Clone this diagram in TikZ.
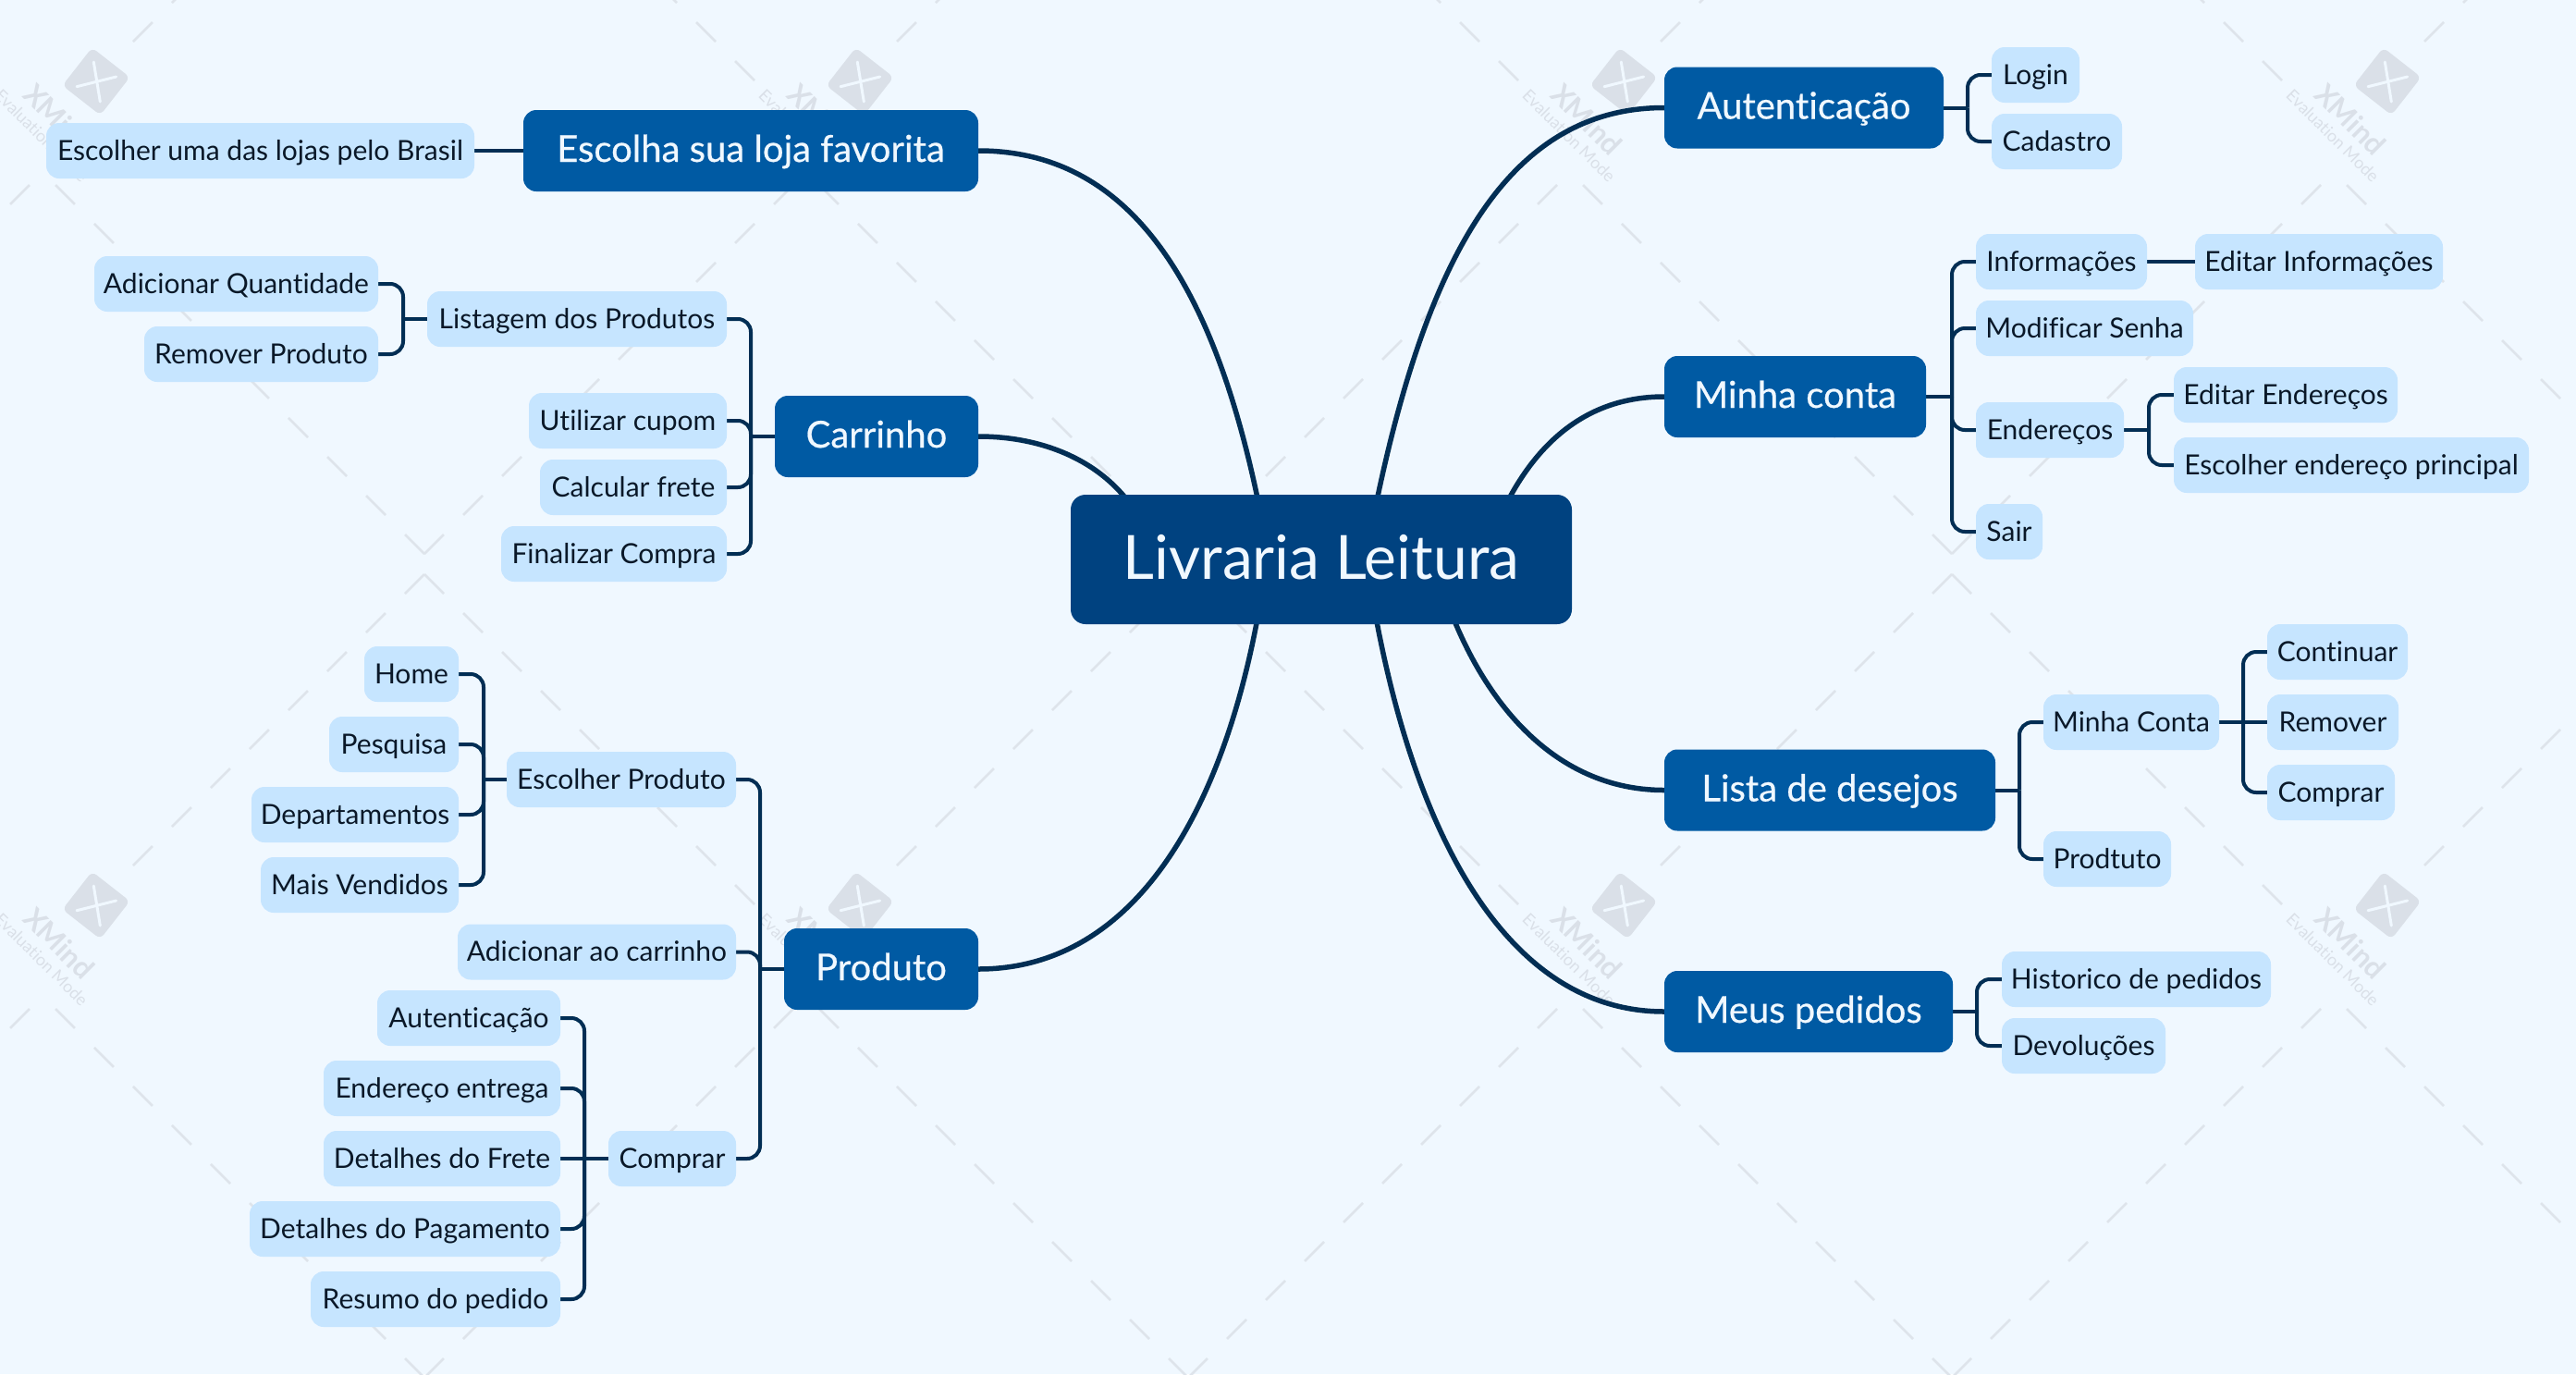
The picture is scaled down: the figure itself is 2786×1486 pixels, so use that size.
\documentclass[tikz,border=0pt]{standalone}
\usepackage{fontspec}
\setmainfont[Ligatures=NoCommon]{Lato}
\newfontfamily\mainfnt[FakeBold=0.5,Ligatures=NoCommon]{Lato}
\pgfdeclarelayer{front}\pgfsetlayers{main,front}
\definecolor{bgc}{RGB}{240,248,255}
\definecolor{rootc}{RGB}{0,66,128}
\definecolor{mainc}{RGB}{0,90,163}
\definecolor{subc}{RGB}{198,229,255}
\definecolor{linec}{RGB}{2,46,84}
\definecolor{subtxt}{RGB}{10,24,40}
\definecolor{wmc}{RGB}{218,224,232}
\definecolor{wmd}{RGB}{222,228,235}
\tikzset{
  x=1pt,y=-1pt,
  subbox/.style={fill=subc,rounded corners=14pt,inner sep=0pt,minimum height=60,text=subtxt,text height=26pt,text depth=6pt,font=\fontsize{30}{36}\selectfont},
  mainbox/.style={fill=mainc,rounded corners=14pt,inner sep=0pt,minimum height=88,text=bgc,text height=32pt,text depth=8pt,font=\mainfnt\fontsize{40}{46}\selectfont},
  rootbox/.style={fill=rootc,rounded corners=16pt,inner sep=0pt,minimum height=140,text=bgc,text height=52pt,text depth=10pt,font=\fontsize{66}{72}\selectfont},
  curveln/.style={draw=linec,line width=5.5pt},
  brk/.style={draw=linec,line width=4pt,rounded corners=14pt},
  wmdash/.style={draw=wmd,line width=2.6pt,dash pattern=on 29.7pt off 29.7pt},
}
\newcommand\sn[5]{\node[subbox,minimum width={(#3)-(#2)}] (#1) at ({((#2)+(#3))/2},#4) {#5};}
\newcommand\mn[5]{\node[mainbox,minimum width={(#3)-(#2)}] (#1) at ({((#2)+(#3))/2},#4) {#5};}
\begin{document}
\begin{tikzpicture}
\useasboundingbox (0,0) rectangle (2786,1486);
\fill[bgc] (0,0) rectangle (2786,1486);
\begin{scope}
\clip (0,0) rectangle (2786,1486);
\foreach \lx in {104,930,1756,2582}{
 \foreach \ly in {88,979}{
  \draw[wmdash] ({\lx-471},{\ly-358}) -- ++(358,358);
  \draw[wmdash] ({\lx+355},{\ly-358}) -- ++(-315,315);
  \draw[wmdash] ({\lx-471},{\ly+511}) -- ++(399,-399);
  \draw[wmdash] ({\lx+355},{\ly+511}) -- ++(-399,-399);
  \begin{scope}[shift={(\lx,\ly)}]
   \fill[wmc,rounded corners=6pt,rotate=-38] (-26,-26) rectangle (26,26);
   \draw[bgc,line width=3pt,line cap=round] (-2.7,-21) .. controls (0,0) .. (4.3,22);
   \draw[bgc,line width=3pt,line cap=round] (-21,5.7) .. controls (0,0) .. (21.7,-5);
   \node[rotate=-45,text=wmc,inner sep=0pt,font=\fontsize{31}{31}\selectfont\bfseries] (wmx\lx-\ly) at (-40,41) {XMind};
   \node[rotate=-45,text=wmc,inner sep=0pt,font=\fontsize{18}{18}\selectfont] (wme\lx-\ly) at (-59,59) {Evaluation Mode};
  \end{scope}
 }
}
\end{scope}
\begin{pgfonlayer}{front}
\node[rootbox,minimum width=542] (root) at (1429,605) {Livraria Leitura};
\mn{loja}{566}{1058}{163}{Escolha sua loja favorita}
\mn{carr}{838}{1058}{472}{Carrinho}
\mn{prod}{848}{1058}{1048}{Produto}
\mn{aut}{1800}{2102}{116.5}{Autenticação}
\mn{conta}{1800}{2083}{429}{Minha conta}
\mn{lista}{1800}{2158}{854.5}{Lista de desejos}
\mn{ped}{1800}{2112}{1094}{Meus pedidos}
\sn{lojas}{50}{513}{163}{Escolher uma das lojas pelo Brasil}
\sn{addq}{102}{409}{307}{Adicionar Quantidade}
\sn{remp}{156}{409}{383}{Remover Produto}
\sn{lis}{462}{786}{345}{Listagem dos Produtos}
\sn{cup}{572}{786}{455}{Utilizar cupom}
\sn{fre}{584}{786}{527}{Calcular frete}
\sn{fin}{542}{786}{599}{Finalizar Compra}
\sn{home}{394}{496}{729}{Home}
\sn{pesq}{356}{496}{805}{Pesquisa}
\sn{dep}{272}{496}{881}{Departamentos}
\sn{mais}{282}{496}{957}{Mais Vendidos}
\sn{esc}{548}{796}{843}{Escolher Produto}
\sn{add}{495}{796}{1029.5}{Adicionar ao carrinho}
\sn{paut}{408}{606}{1101}{Autenticação}
\sn{pend}{350}{606}{1177}{Endereço entrega}
\sn{pfre}{350}{606}{1253}{Detalhes do Frete}
\sn{ppag}{270}{606}{1329}{Detalhes do Pagamento}
\sn{pres}{336}{606}{1405}{Resumo do pedido}
\sn{comp}{658}{796}{1253}{Comprar}
\sn{login}{2154}{2249}{81}{Login}
\sn{cad}{2154}{2295}{153}{Cadastro}
\sn{inf}{2137}{2322}{283}{Informações}
\sn{edinf}{2374}{2642}{283}{Editar Informações}
\sn{sen}{2137}{2372}{355}{Modificar Senha}
\sn{end}{2137}{2297}{465}{Endereços}
\sn{edend}{2351}{2593}{427}{Editar Endereços}
\sn{escend}{2351}{2735}{503}{Escolher endereço principal}
\sn{sair}{2137}{2209}{575}{Sair}
\sn{mc}{2210}{2400}{781}{Minha Conta}
\sn{pdt}{2210}{2348}{929}{Prodtuto}
\sn{cont}{2452}{2604}{705}{Continuar}
\sn{rem}{2452}{2594}{781}{Remover}
\sn{cmp}{2452}{2590}{857}{Comprar}
\sn{hist}{2165}{2456}{1059}{Historico de pedidos}
\sn{dev}{2165}{2342}{1131}{Devoluções}
\end{pgfonlayer}
% main curves (start behind the root box)
\coordinate (ra) at (1474,620);
\coordinate (rb) at (1606,600);
\coordinate (rc) at (1555,620);
\coordinate (rd) at (1480,620);
\coordinate (re) at (1368,620);
\coordinate (rf) at (1375,620);
\coordinate (rg) at (1235,565);
\draw[curveln] (ra) .. controls (1530,300) and (1620,116.5) .. (aut.west);
\draw[curveln] (rb) .. controls (1640,500) and (1700,429) .. (conta.west);
\draw[curveln] (rc) .. controls (1590,740) and (1670,854.5) .. (lista.west);
\draw[curveln] (rd) .. controls (1520,880) and (1620,1094) .. (ped.west);
\draw[curveln] (re) .. controls (1335,850) and (1240,1048) .. (prod.east);
\draw[curveln] (rf) .. controls (1330,340) and (1240,163) .. (loja.east);
\draw[curveln] (rg) .. controls (1200,500) and (1130,472) .. (carr.east);
% brackets
\draw[brk] (loja.west) -- (lojas.east);
\coordinate (s1) at (2128,116.5);
\draw[brk] (aut.east) -- (s1);
\draw[brk] (s1) |- (login.west);
\draw[brk] (s1) |- (cad.west);
\coordinate (s2) at (2111,429);
\draw[brk] (conta.east) -- (s2);
\draw[brk] (s2) |- (inf.west);
\draw[brk] (s2) |- (sen.west);
\draw[brk] (s2) |- (end.west);
\draw[brk] (s2) |- (sair.west);
\draw[brk] (inf.east) -- (edinf.west);
\coordinate (s3) at (2324,465);
\draw[brk] (end.east) -- (s3);
\draw[brk] (s3) |- (edend.west);
\draw[brk] (s3) |- (escend.west);
\coordinate (s4) at (2184,854.5);
\draw[brk] (lista.east) -- (s4);
\draw[brk] (s4) |- (mc.west);
\draw[brk] (s4) |- (pdt.west);
\coordinate (s5) at (2426,781);
\draw[brk] (mc.east) -- (rem.west);
\draw[brk] (s5) |- (cont.west);
\draw[brk] (s5) |- (cmp.west);
\coordinate (s6) at (2138,1094);
\draw[brk] (ped.east) -- (s6);
\draw[brk] (s6) |- (hist.west);
\draw[brk] (s6) |- (dev.west);
\coordinate (s7) at (812,472);
\draw[brk] (carr.west) -- (s7);
\draw[brk] (s7) |- (lis.east);
\draw[brk] (s7) |- (cup.east);
\draw[brk] (s7) |- (fre.east);
\draw[brk] (s7) |- (fin.east);
\coordinate (s8) at (436,345);
\draw[brk] (lis.west) -- (s8);
\draw[brk] (s8) |- (addq.east);
\draw[brk] (s8) |- (remp.east);
\coordinate (s9) at (822,1048);
\draw[brk] (prod.west) -- (s9);
\draw[brk] (s9) |- (esc.east);
\draw[brk] (s9) |- (add.east);
\draw[brk] (s9) |- (comp.east);
\coordinate (s10) at (523,843);
\draw[brk] (esc.west) -- (s10);
\draw[brk] (s10) |- (home.east);
\draw[brk] (s10) |- (pesq.east);
\draw[brk] (s10) |- (dep.east);
\draw[brk] (s10) |- (mais.east);
\coordinate (s11) at (632,1253);
\draw[brk] (comp.west) -- (pfre.east);
\draw[brk] (s11) |- (paut.east);
\draw[brk] (s11) |- (pend.east);
\draw[brk] (s11) |- (ppag.east);
\draw[brk] (s11) |- (pres.east);
\end{tikzpicture}
\end{document}
